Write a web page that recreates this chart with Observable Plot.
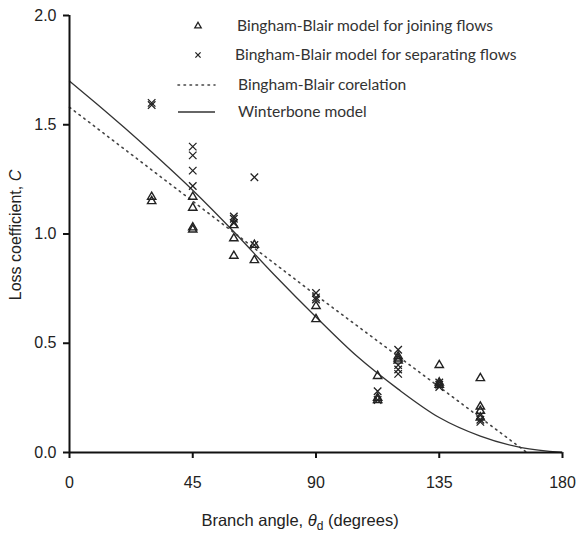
<!DOCTYPE html>
<html>
<head>
<meta charset="utf-8">
<script src="https://cdn.jsdelivr.net/npm/d3@7"></script>
<script src="https://cdn.jsdelivr.net/npm/@observablehq/plot@0.6"></script>
<style>
  html, body { margin: 0; padding: 0; background: #fff; }
  #chart { position: relative; width: 577px; height: 533px; }
</style>
</head>
<body>
<div id="chart"></div>
<script>
// Bingham-Blair model for joining flows (triangles): [angle, C]
const joiningAngle = [30, 30, 45, 45, 45, 45, 60, 60, 60, 67.5, 67.5, 90, 90, 112.5, 112.5, 112.5, 120, 120, 120, 135, 135, 135, 150, 150, 150, 150];
const joiningC     = [1.17, 1.15, 1.17, 1.12, 1.03, 1.02, 1.04, 0.98, 0.90, 0.95, 0.88, 0.67, 0.61, 0.35, 0.25, 0.24, 0.44, 0.43, 0.42, 0.40, 0.32, 0.31, 0.34, 0.21, 0.19, 0.16];

// Bingham-Blair model for separating flows (crosses)
const separatingAngle = [30, 30, 45, 45, 45, 45, 60, 60, 60, 67.5, 67.5, 90, 90, 90, 112.5, 112.5, 120, 120, 120, 120, 135, 135, 135, 150, 150, 150];
const separatingC     = [1.60, 1.59, 1.40, 1.36, 1.29, 1.22, 1.08, 1.07, 1.05, 1.26, 0.95, 0.73, 0.71, 0.70, 0.28, 0.24, 0.47, 0.40, 0.38, 0.36, 0.32, 0.31, 0.30, 0.17, 0.15, 0.14];

// Bingham-Blair corelation (dotted)
const corelationAngle = [0, 45, 90, 135, 167];
const corelationC     = [1.58, 1.15, 0.72, 0.30, 0.0];

// Winterbone model (solid)
const winterAngle = [0, 10, 20, 30, 45, 60, 75, 90, 105, 120, 135, 150, 165, 180];
const winterC     = [1.70, 1.595, 1.487, 1.375, 1.20, 1.01, 0.81, 0.62, 0.44, 0.29, 0.16, 0.075, 0.022, 0.0];

const xTicks = [0, 45, 90, 135, 180];
const yTicks = [0, 0.5, 1.0, 1.5, 2.0];

const legendLabels = [
  "Bingham-Blair model for joining flows",
  "Bingham-Blair model for separating flows",
  "Bingham-Blair corelation",
  "Winterbone model"
];

const joining = joiningAngle.map((a, i) => ({a, c: joiningC[i]}));
const separating = separatingAngle.map((a, i) => ({a, c: separatingC[i]}));
const corelation = corelationAngle.map((a, i) => ({a, c: corelationC[i]}));
const winter = winterAngle.map((a, i) => ({a, c: winterC[i]}));

const ink = "#222";

const plot = Plot.plot({
  width: 577,
  height: 533,
  marginLeft: 69,
  marginRight: 15,
  marginTop: 15,
  marginBottom: 81,
  style: {fontFamily: "'Liberation Sans', Arial, sans-serif", fontSize: "16px", color: ink, background: "#fff"},
  x: {domain: [0, 180], ticks: xTicks, tickSize: 6, tickPadding: 18, label: null},
  y: {domain: [0, 2], ticks: yTicks, tickSize: 6, tickPadding: 7, tickFormat: d3.format(".1f"), label: null},
  marks: [
    Plot.line(corelation, {x: "a", y: "c", stroke: "#444", strokeWidth: 1.6, strokeDasharray: "1.5,4.5", strokeLinecap: "round"}),
    Plot.line(winter, {x: "a", y: "c", stroke: "#333", strokeWidth: 1.3, curve: "monotone-x"}),
    Plot.dot(joining, {x: "a", y: "c", symbol: "triangle", r: 3.1, stroke: ink, strokeWidth: 1.4, fill: "none"}),
    Plot.dot(separating, {x: "a", y: "c", symbol: "times", r: 3.5, stroke: ink, strokeWidth: 1.3}),
    Plot.ruleX([0], {stroke: "#111", strokeWidth: 2}),
    Plot.ruleY([0], {stroke: "#111", strokeWidth: 2})
  ]
});

document.getElementById("chart").appendChild(plot);

const svg = d3.select(plot);
svg.selectAll("[aria-label='x-axis tick'] path, [aria-label='y-axis tick'] path").attr("stroke", "#111").attr("stroke-width", 2);

// Axis titles
svg.append("text")
  .attr("transform", "translate(21,235) rotate(-90)")
  .attr("text-anchor", "middle")
  .attr("font-family", "'Liberation Sans', Arial, sans-serif")
  .attr("font-size", 16)
  .attr("fill", ink)
  .call(t => {
    t.append("tspan").text("Loss coefficient, ");
    t.append("tspan").attr("font-style", "italic").text("C");
  });

svg.append("text")
  .attr("x", 300)
  .attr("y", 526)
  .attr("text-anchor", "middle")
  .attr("font-family", "'Liberation Sans', Arial, sans-serif")
  .attr("font-size", 16.5)
  .attr("fill", ink)
  .call(t => {
    t.append("tspan").text("Branch angle, ");
    t.append("tspan").attr("font-style", "italic").text("θ");
    t.append("tspan").attr("font-size", 12).attr("dy", 4).text("d");
    t.append("tspan").attr("dy", -4).text(" (degrees)");
  });

// Legend
const lg = svg.append("g").attr("font-family", "Lato, 'Open Sans', sans-serif").attr("font-size", 15.6).attr("fill", "#333").attr("text-anchor", "start");
const rows = [26, 55, 85, 112];
const textX = [237, 235, 238, 238];
legendLabels.forEach((lab, i) => {
  lg.append("text").attr("x", textX[i]).attr("y", rows[i]).attr("dy", "0.35em").text(lab);
});
lg.append("path").attr("d", d3.symbol(d3.symbolTriangle, 18)()).attr("transform", `translate(198,${rows[0]})`).attr("fill", "none").attr("stroke", ink).attr("stroke-width", 1.3);
lg.append("path").attr("d", "M-2.6,-2.6L2.6,2.6M2.6,-2.6L-2.6,2.6").attr("transform", `translate(198,${rows[1]})`).attr("fill", "none").attr("stroke", ink).attr("stroke-width", 1.3);
lg.append("line").attr("x1", 178).attr("x2", 215).attr("y1", rows[2]).attr("y2", rows[2]).attr("stroke", "#444").attr("stroke-width", 1.6).attr("stroke-dasharray", "1.5,4.5").attr("stroke-linecap", "round");
lg.append("line").attr("x1", 178).attr("x2", 215).attr("y1", rows[3]).attr("y2", rows[3]).attr("stroke", "#333").attr("stroke-width", 1.3);
</script>
</body>
</html>
